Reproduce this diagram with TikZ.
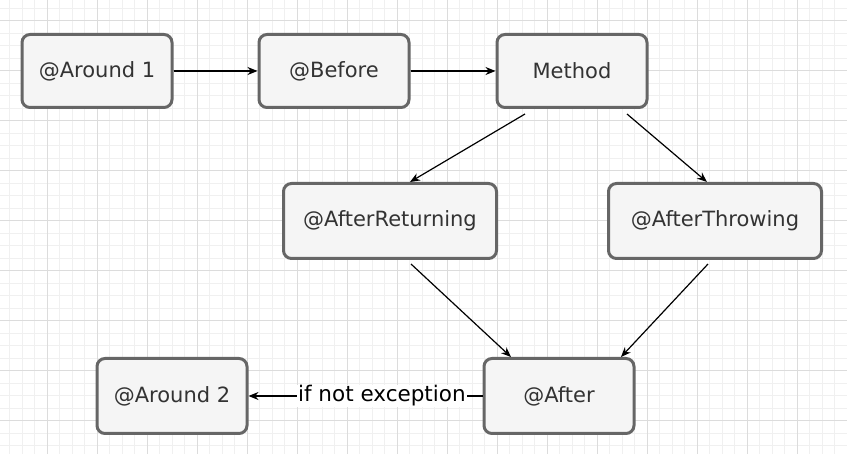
\documentclass[tikz,border=0pt]{standalone}
\usepackage{fontspec}
\setmainfont{DejaVu Sans}
\usetikzlibrary{arrows.meta}
\definecolor{boxfill}{HTML}{F5F5F5}
\definecolor{boxline}{HTML}{666666}
\definecolor{boxtext}{HTML}{333333}
\definecolor{majorgrid}{HTML}{DCDCDC}
\definecolor{minorgrid}{HTML}{F0F0F0}
\tikzset{
  advice/.style={draw=boxline,fill=boxfill,text=boxtext,line width=3pt,rounded corners=8pt,
    minimum width=150pt,minimum height=73pt,font=\fontsize{21}{24}\selectfont},
  flow/.style={-{Stealth[length=10pt,width=8pt]},line width=1.2pt}
}
\begin{document}
\begin{tikzpicture}[x=1pt,y=-1pt]
  \useasboundingbox (0,0) rectangle (847,454);
  \fill[white] (0,0) rectangle (847,454);
  % grid
  \foreach \x in {9.5,22,...,847} \draw[minorgrid,line width=1pt](\x,0)--(\x,454);
  \foreach \y in {8.5,21,...,454} \draw[minorgrid,line width=1pt](0,\y)--(847,\y);
  \foreach \x in {47,97,...,847} \draw[majorgrid,line width=1pt](\x,0)--(\x,454);
  \foreach \y in {21,71,...,454} \draw[majorgrid,line width=1pt](0,\y)--(847,\y);
  % advices
  \node[advice] (around1) at (97,71) {@Around 1};
  \node[advice] (before) at (334,71) {@Before};
  \node[advice] (method) at (572,71) {Method};
  \node[advice,minimum width=213pt,minimum height=75pt] (returning) at (390,221) {@AfterReturning};
  \node[advice,minimum width=213pt,minimum height=75pt] (throwing) at (715,221) {@AfterThrowing};
  \node[advice,minimum height=75pt] (around2) at (172,396) {@Around 2};
  \node[advice,minimum height=75pt] (after) at (559,396) {@After};
  % flow
  \draw[flow] (around1.east)--(before.west);
  \draw[flow] (before.east)--(method.west);
  \draw[flow] ([xshift=-47pt,yshift=-5pt]method.south)--([xshift=20pt]returning.north);
  \draw[flow] ([xshift=55pt,yshift=-5pt]method.south)--([xshift=-8pt]throwing.north);
  \draw[flow] ([xshift=21pt,yshift=-4pt]returning.south)--([xshift=-48pt]after.north);
  \draw[flow] ([xshift=-7pt,yshift=-4pt]throwing.south)--([xshift=62pt]after.north);
  \draw[flow] (after.west)--node[pos=.43,fill=white,inner sep=1pt,font=\fontsize{21.5}{24}\selectfont]{if not exception}(around2.east);
\end{tikzpicture}
\end{document}
